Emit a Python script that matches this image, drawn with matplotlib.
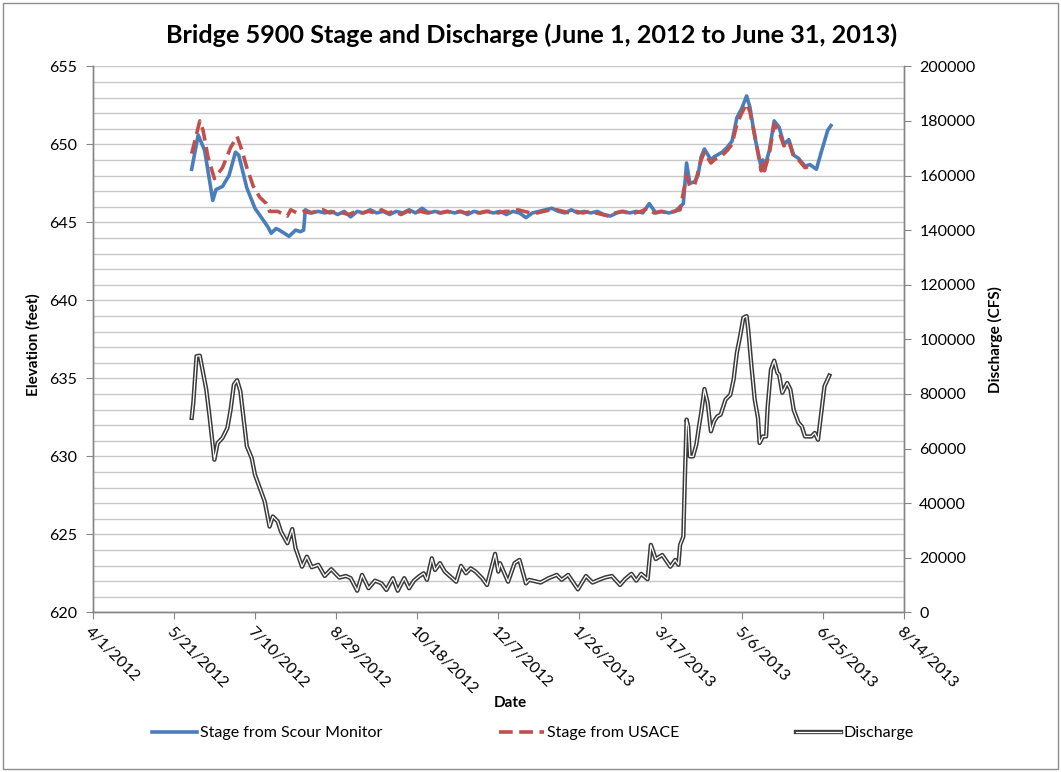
import matplotlib
matplotlib.use("Agg")
import matplotlib.pyplot as plt
import matplotlib.patheffects as pe
from matplotlib.lines import Line2D
from matplotlib.patches import Rectangle
import pandas as pd

plt.rcParams['font.family'] = ['Lato', 'DejaVu Sans']

# ---------------- data ----------------
monitor_dates = [
    "2012-06-01", "2012-06-05", "2012-06-09", "2012-06-14", "2012-06-16", "2012-06-20",
    "2012-06-24", "2012-06-28", "2012-06-30", "2012-07-05", "2012-07-10", "2012-07-14",
    "2012-07-18", "2012-07-20", "2012-07-23", "2012-07-25", "2012-07-28", "2012-07-31",
    "2012-08-04", "2012-08-07", "2012-08-09",
    "2012-08-10", "2012-08-14", "2012-08-18", "2012-08-22", "2012-08-26", "2012-08-30",
    "2012-09-03", "2012-09-07", "2012-09-11", "2012-09-15", "2012-09-19", "2012-09-23", "2012-09-27",
    "2012-10-01", "2012-10-05", "2012-10-09", "2012-10-13", "2012-10-17", "2012-10-21", "2012-10-25", "2012-10-29",
    "2012-11-02", "2012-11-06", "2012-11-10", "2012-11-14", "2012-11-18", "2012-11-22", "2012-11-26", "2012-11-30",
    "2012-12-04", "2012-12-08", "2012-12-12", "2012-12-16", "2012-12-20", "2012-12-24", "2012-12-28",
    "2013-01-01", "2013-01-05", "2013-01-09", "2013-01-13", "2013-01-17", "2013-01-21", "2013-01-25", "2013-01-29",
    "2013-02-02", "2013-02-06", "2013-02-10", "2013-02-14", "2013-02-18", "2013-02-22", "2013-02-26",
    "2013-03-02", "2013-03-06", "2013-03-10", "2013-03-14", "2013-03-18", "2013-03-22", "2013-03-26", "2013-03-31",
    "2013-04-02", "2013-04-04", "2013-04-07", "2013-04-09", "2013-04-11", "2013-04-13", "2013-04-17",
    "2013-04-19", "2013-04-24", "2013-04-27", "2013-04-30", "2013-05-03", "2013-05-06", "2013-05-09",
    "2013-05-11", "2013-05-14", "2013-05-18", "2013-05-19", "2013-05-20", "2013-05-23", "2013-05-26",
    "2013-05-29", "2013-06-01", "2013-06-04", "2013-06-07", "2013-06-10", "2013-06-14", "2013-06-17",
    "2013-06-21", "2013-06-24", "2013-06-28", "2013-06-30",
]
monitor_stage = [
    648.4, 650.6, 649.6, 646.4, 647.1, 647.3,
    648.0, 649.5, 649.3, 647.2, 645.9, 645.3,
    644.7, 644.3, 644.6, 644.5, 644.3, 644.1,
    644.5, 644.4, 644.5,
    645.8, 645.6, 645.7, 645.6, 645.7, 645.5,
    645.7, 645.35, 645.7, 645.6, 645.8, 645.6, 645.7,
    645.5, 645.7, 645.6, 645.8, 645.6, 645.9, 645.6, 645.7,
    645.6, 645.7, 645.6, 645.7, 645.5, 645.7, 645.6, 645.7,
    645.6, 645.7, 645.5, 645.7, 645.6, 645.3, 645.6,
    645.7, 645.8, 645.9, 645.7, 645.6, 645.8, 645.6, 645.7,
    645.6, 645.7, 645.5, 645.4, 645.6, 645.7, 645.6,
    645.7, 645.6, 646.2, 645.6, 645.7, 645.6, 645.7, 646.2,
    648.8, 647.5, 647.6, 648.0, 649.2, 649.7, 649.0,
    649.2, 649.5, 649.8, 650.2, 651.7, 652.3, 653.1,
    652.4, 650.5, 648.5, 649.0, 648.5, 649.6, 651.5,
    651.1, 650.0, 650.3, 649.3, 649.1, 648.6, 648.7,
    648.4, 649.5, 650.9, 651.2,
]

usace_dates = [
    "2012-06-01", "2012-06-06", "2012-06-08", "2012-06-11", "2012-06-15", "2012-06-20",
    "2012-06-25", "2012-06-29", "2012-07-02", "2012-07-05", "2012-07-09", "2012-07-13",
    "2012-07-17", "2012-07-19", "2012-07-24", "2012-07-30", "2012-08-01",
    "2012-08-05", "2012-08-09", "2012-08-13", "2012-08-17", "2012-08-21", "2012-08-25", "2012-08-29",
    "2012-09-02", "2012-09-06", "2012-09-10", "2012-09-14", "2012-09-18", "2012-09-22", "2012-09-26", "2012-09-30",
    "2012-10-04", "2012-10-08", "2012-10-12", "2012-10-16", "2012-10-20", "2012-10-24", "2012-10-28",
    "2012-11-01", "2012-11-05", "2012-11-09", "2012-11-13", "2012-11-17", "2012-11-21", "2012-11-25", "2012-11-29",
    "2012-12-03", "2012-12-07", "2012-12-11", "2012-12-15", "2012-12-19", "2012-12-23", "2012-12-27", "2012-12-31",
    "2013-01-04", "2013-01-08", "2013-01-12", "2013-01-16", "2013-01-20", "2013-01-24", "2013-01-28",
    "2013-02-01", "2013-02-05", "2013-02-09", "2013-02-13", "2013-02-17", "2013-02-21", "2013-02-25",
    "2013-03-01", "2013-03-05", "2013-03-09", "2013-03-13", "2013-03-17", "2013-03-21", "2013-03-25", "2013-03-29",
    "2013-04-02", "2013-04-04", "2013-04-07", "2013-04-11", "2013-04-13", "2013-04-17", "2013-04-19",
    "2013-04-24", "2013-04-27", "2013-04-30", "2013-05-03", "2013-05-06", "2013-05-09", "2013-05-11",
    "2013-05-14", "2013-05-18", "2013-05-19", "2013-05-20", "2013-05-23", "2013-05-26", "2013-05-29",
    "2013-06-01", "2013-06-04", "2013-06-07", "2013-06-10", "2013-06-14", "2013-06-17",
]
usace_stage = [
    649.4, 651.5, 650.9, 649.2, 647.8, 648.5,
    649.8, 650.5, 649.6, 648.5, 647.3, 646.6,
    646.2, 645.7, 645.7, 645.4, 645.8,
    645.6, 645.7, 645.6, 645.7, 645.8, 645.6, 645.7,
    645.6, 645.5, 645.7, 645.6, 645.7, 645.6, 645.8, 645.6,
    645.7, 645.5, 645.7, 645.6, 645.7, 645.6, 645.7,
    645.6, 645.7, 645.6, 645.7, 645.6, 645.7, 645.6, 645.7,
    645.7, 645.6, 645.7, 645.7, 645.8, 645.7, 645.6, 645.6,
    645.7, 645.8, 645.8, 645.7, 645.6, 645.7, 645.6,
    645.7, 645.6, 645.5, 645.4, 645.6, 645.7, 645.6,
    645.6, 645.7, 645.9, 645.6, 645.7, 645.6, 645.7, 645.8,
    648.0, 647.3, 647.4, 649.0, 649.5, 648.8, 649.0,
    649.3, 649.6, 650.0, 651.3, 652.0, 652.6, 652.1,
    650.6, 648.3, 648.8, 648.3, 649.4, 651.3, 650.8,
    649.9, 650.2, 649.2, 649.0, 648.5, 648.6,
]

discharge_dates = [
    "2012-06-01", "2012-06-02", "2012-06-04", "2012-06-06", "2012-06-08", "2012-06-10",
    "2012-06-12", "2012-06-15", "2012-06-17", "2012-06-20", "2012-06-23", "2012-06-25",
    "2012-06-27", "2012-06-29", "2012-07-01", "2012-07-05", "2012-07-08", "2012-07-10",
    "2012-07-13", "2012-07-16", "2012-07-19", "2012-07-21", "2012-07-24", "2012-07-26",
    "2012-07-30", "2012-08-02", "2012-08-04", "2012-08-08", "2012-08-11", "2012-08-14",
    "2012-08-18", "2012-08-22", "2012-08-26", "2012-08-31", "2012-09-04", "2012-09-07",
    "2012-09-11", "2012-09-14", "2012-09-18", "2012-09-22", "2012-09-26", "2012-09-29",
    "2012-10-03", "2012-10-06", "2012-10-10", "2012-10-13", "2012-10-16", "2012-10-19",
    "2012-10-22", "2012-10-24", "2012-10-27", "2012-10-29", "2012-11-01", "2012-11-04",
    "2012-11-11", "2012-11-14", "2012-11-17", "2012-11-20", "2012-11-23", "2012-11-27",
    "2012-11-30", "2012-12-05", "2012-12-07", "2012-12-08", "2012-12-13", "2012-12-17",
    "2012-12-20", "2012-12-24", "2012-12-26", "2013-01-02", "2013-01-07", "2013-01-12",
    "2013-01-15", "2013-01-19", "2013-01-25", "2013-01-30", "2013-02-03", "2013-02-07",
    "2013-02-11", "2013-02-15", "2013-02-20", "2013-02-23", "2013-02-27", "2013-03-02",
    "2013-03-05", "2013-03-09", "2013-03-11", "2013-03-14", "2013-03-18", "2013-03-23",
    "2013-03-26", "2013-03-28", "2013-03-29", "2013-03-31", "2013-04-01", "2013-04-02",
    "2013-04-03", "2013-04-04", "2013-04-06", "2013-04-08", "2013-04-10", "2013-04-11",
    "2013-04-13", "2013-04-15", "2013-04-17", "2013-04-19", "2013-04-21", "2013-04-23",
    "2013-04-26", "2013-04-29", "2013-05-01", "2013-05-03", "2013-05-05", "2013-05-07",
    "2013-05-09", "2013-05-10", "2013-05-12", "2013-05-14", "2013-05-16", "2013-05-17",
    "2013-05-19", "2013-05-21", "2013-05-22", "2013-05-24", "2013-05-26", "2013-05-28",
    "2013-05-29", "2013-05-31", "2013-06-03", "2013-06-05", "2013-06-07", "2013-06-10",
    "2013-06-12", "2013-06-14", "2013-06-18", "2013-06-20", "2013-06-22", "2013-06-24",
    "2013-06-26", "2013-06-29",
]
discharge_cfs = [
    71200, 76700, 93800, 94000, 87700, 81600,
    71800, 55900, 62000, 63900, 67500, 74200,
    83400, 85000, 81000, 60800, 56500, 50400,
    45500, 40600, 31400, 35100, 33300, 29600,
    25300, 30500, 23500, 16700, 20400, 16500,
    17400, 13300, 15800, 12700, 13300, 12500,
    7900, 13700, 8800, 11600, 10600, 8200,
    12500, 7900, 12500, 8800, 11600, 13100,
    14300, 11900, 19800, 15500, 18000, 14900,
    11200, 17000, 14300, 16100, 14900, 12500,
    10000, 21400, 14900, 18000, 11200, 18000,
    19200, 10600, 11900, 10900, 12500, 13700,
    11900, 13700, 8400, 13300, 10900, 11900,
    12800, 13300, 10000, 12100, 14100, 11600,
    14100, 12100, 24700, 19500, 21000, 16700,
    19200, 17400, 24700, 27700, 50000, 70600,
    68000, 57100, 57100, 61400, 69400, 73000,
    81800, 76700, 66300, 70000, 71800, 72400,
    77900, 79700, 85300, 95100, 101100, 107900,
    108500, 103600, 90100, 77900, 71200, 62000,
    64400, 64400, 75500, 88900, 92200, 87700,
    87100, 80400, 84000, 81600, 74200, 69400,
    68100, 64400, 64400, 65700, 63200, 73000,
    82800, 86700,
]

elev_ticks = [620, 625, 630, 635, 640, 645, 650, 655]
discharge_ticks = [0, 20000, 40000, 60000, 80000, 100000, 120000, 140000, 160000, 180000, 200000]
date_start = "2012-04-01"
date_end = "2013-08-14"
date_step_days = 50

title = "Bridge 5900 Stage and Discharge (June 1, 2012 to June 31, 2013)"

# ---------------- figure ----------------
W, H = 1061, 772
fig = plt.figure(figsize=(W / 100, H / 100), dpi=100)
fig.patch.set_facecolor("white")
fig.add_artist(Rectangle((3 / W, 3 / H), 1 - 6 / W, 1 - 6 / H, transform=fig.transFigure,
                         fill=False, edgecolor="#8c8c8c", linewidth=1.0))

left, right, top, bottom = 92.7 / W, 904 / W, 66.3 / H, 612.3 / H
ax = fig.add_axes([left, 1 - bottom, right - left, bottom - top])
ax2 = ax.twinx()

grey = "#868686"
tick_fs = 11.5
dis_effects = [pe.Stroke(linewidth=3.1, foreground="#3a3a3a"), pe.Normal()]

md = pd.to_datetime(monitor_dates)
ud = pd.to_datetime(usace_dates)
dd = pd.to_datetime(discharge_dates)

ax.plot(md, monitor_stage, color="#4a7ebb", lw=2.6, solid_joinstyle="round", zorder=3)
ax.plot(ud, usace_stage, color="#c0504d", lw=2.6, dashes=(3.8, 1.8), zorder=4)

ax2.plot(dd, discharge_cfs, color="white", lw=0.9, zorder=3, path_effects=dis_effects)

# axes ranges
ax.set_ylim(620, 655)
ax2.set_ylim(0, 200000)
xs = pd.Timestamp(date_start)
xe = pd.Timestamp(date_end)
ax.set_xlim(xs, xe)

xticks = pd.date_range(xs, xe, freq=f"{date_step_days}D")
ax.set_xticks(xticks)
ax.set_xticklabels([f"{d.month}/{d.day}/{d.year}" for d in xticks], rotation=-45,
                   ha="left", va="top", rotation_mode="anchor", fontsize=tick_fs)

ax.set_yticks(elev_ticks)
ax.set_yticklabels([str(v) for v in elev_ticks], fontsize=tick_fs)
ax.set_yticks(range(620, 656), minor=True)
ax2.set_yticks(discharge_ticks)
ax2.set_yticklabels([str(v) for v in discharge_ticks], fontsize=tick_fs)

ax.grid(True, which="both", axis="y", color="#c8c8c8", lw=1.0)
ax.set_axisbelow(True)
ax.tick_params(axis="y", which="minor", length=0)
ax.tick_params(axis="both", which="major", direction="out", length=5, color=grey, pad=6)
ax2.tick_params(axis="y", direction="out", length=5, color=grey, pad=6)
ax.tick_params(axis="x", pad=4)

for a in (ax, ax2):
    a.spines["top"].set_visible(False)
    for s in ("left", "right", "bottom"):
        a.spines[s].set_color(grey)
        a.spines[s].set_linewidth(1.0)

# titles
fig.text(532 / W, 1 - 35 / H, title, ha="center", va="center", fontsize=18.2, fontweight="bold")
fig.text(33 / W, 1 - 345 / H, "Elevation (feet)", rotation=90, ha="center", va="center",
         fontsize=11, fontweight="bold")
fig.text(995 / W, 1 - 340 / H, "Discharge (CFS)", rotation=90, ha="center", va="center",
         fontsize=11, fontweight="bold")
fig.text(510 / W, 1 - 703 / H, "Date", ha="center", va="center", fontsize=11, fontweight="bold")

# legend
handles = [
    Line2D([], [], color="#4a7ebb", lw=2.6),
    Line2D([], [], color="#c0504d", lw=2.6, dashes=(3.8, 1.8)),
    Line2D([], [], color="white", lw=0.9, path_effects=dis_effects),
]
labels = ["Stage from Scour Monitor", "Stage from USACE", "Discharge"]
fig.legend(handles, labels, loc="center", bbox_to_anchor=(533 / W, 1 - 733 / H), ncol=3,
           frameon=False, fontsize=11.5, handlelength=2.8, handletextpad=0.2,
           columnspacing=7.3)

fig.savefig("out.png", dpi=100)
